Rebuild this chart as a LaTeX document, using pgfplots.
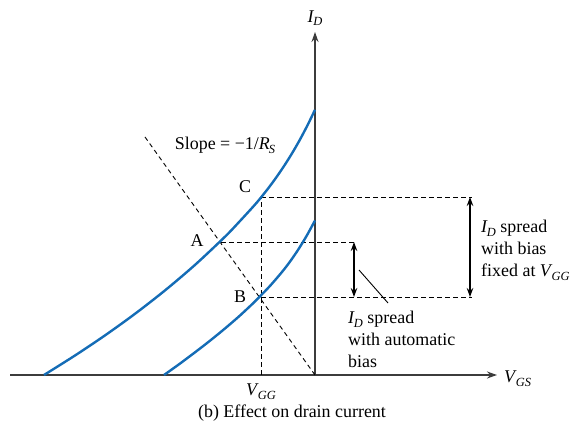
\documentclass[border=0pt]{standalone}
\usepackage{pgfplots}
\pgfplotsset{compat=1.18}
\usepackage{fontspec}
\setmainfont{Liberation Serif}
\usetikzlibrary{arrows.meta}
\definecolor{curveblue}{RGB}{20,108,182}
\definecolor{axiscol}{RGB}{60,60,60}
\newcommand{\sym}[2]{\textit{#1}\kern-0.05em\raisebox{-0.45ex}{\fontsize{12.5}{12.5}\selectfont\textit{#2}}}
\tikzset{lbl/.style={font=\fontsize{18}{22}\selectfont, inner sep=0pt}}
\begin{document}
\begin{tikzpicture}
\begin{axis}[
  scale only axis, width=571bp, height=432bp,
  xmin=-315, xmax=256, ymin=-57, ymax=375,
  hide axis, clip=false,
]
\path (rel axis cs:0,0) rectangle (rel axis cs:1,1);
% axes
\addplot[axiscol, line width=1.3bp, -{Stealth[length=10bp,width=7bp]}] coordinates {(-305,0) (182,0)};
\addplot[axiscol, line width=1.3bp, -{Stealth[length=10bp,width=7bp]}] coordinates {(0,0) (0,343)};
% dashed guide lines
\addplot[black, line width=0.9bp, dash pattern=on 4.5bp off 3.5bp] coordinates {(-170,238) (0,0)};
\addplot[black, line width=0.9bp, dash pattern=on 4.5bp off 3.5bp] coordinates {(-54,0) (-54,178)};
\addplot[black, line width=0.9bp, dash pattern=on 4.5bp off 3.5bp] coordinates {(-54,178) (157,178)};
\addplot[black, line width=0.9bp, dash pattern=on 4.5bp off 3.5bp] coordinates {(-94,133) (40,133)};
\addplot[black, line width=0.9bp, dash pattern=on 4.5bp off 3.5bp] coordinates {(-54,78) (157,78)};
% double arrows
\addplot[black, line width=1.1bp, {Stealth[length=9bp,width=6.5bp]}-{Stealth[length=9bp,width=6.5bp]}] coordinates {(155,178) (155,78)};
\addplot[black, line width=1.1bp, {Stealth[length=9bp,width=6.5bp]}-{Stealth[length=9bp,width=6.5bp]}] coordinates {(39,133) (39,78)};
\addplot[black, line width=0.9bp] coordinates {(44,105) (73,72)};
% curves
\addplot[curveblue, line width=2.4bp, smooth] coordinates {
(-271,0) (-240,19.5) (-210,39.6) (-180,61.2) (-150,84.6) (-120,110.1) (-90,138.3) (-75,154.0) (-60,170.4) (-52.5,179.4) (-45,189.0) (-37.5,199.35) (-30,210.45) (-22.5,222.45) (-15,235.5) (-7.5,249.75) (0,265.2)};
\addplot[curveblue, line width=2.4bp, smooth] coordinates {
(-151,0) (-136,10.7) (-121,21.9) (-106,33.5) (-91,45.7) (-76,58.6) (-61,72.6) (-53.5,80.2) (-46,88.0) (-38.5,96.5) (-31,105.5) (-23.5,115.5) (-16,126.6) (-8,139.8) (0,154.5)};
% labels
\node[lbl] at (axis cs:0,357) {\sym{I}{D}};
\node[lbl, anchor=west] at (axis cs:189,-4) {\sym{V}{GS}};
\node[lbl] at (axis cs:-54,-17) {\sym{V}{GG}};
\node[lbl] at (axis cs:-23,-38) {(b) Effect on drain current};
\node[lbl] at (axis cs:-90,230) {Slope = −1/\sym{R}{S}};
\node[lbl] at (axis cs:-70,188) {C};
\node[lbl] at (axis cs:-118,134) {A};
\node[lbl] at (axis cs:-75,78) {B};
\node[lbl, align=left, anchor=north west] at (axis cs:166,155) {\sym{I}{D} spread\\with bias\\fixed at \sym{V}{GG}};
\node[lbl, align=left, anchor=north west] at (axis cs:33,64) {\sym{I}{D} spread\\with automatic\\bias};
\end{axis}
\end{tikzpicture}
\end{document}
